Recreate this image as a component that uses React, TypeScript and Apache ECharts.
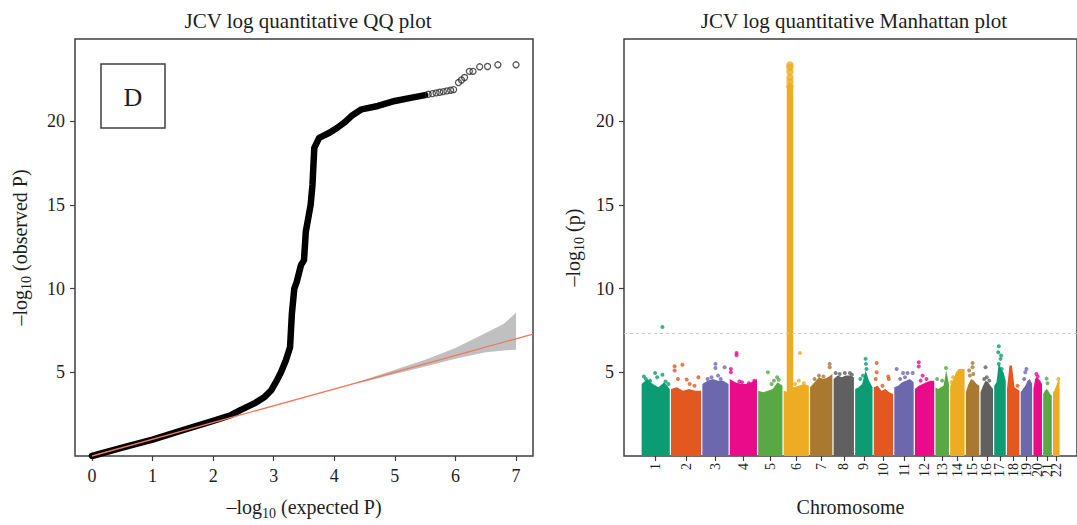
import React, { useEffect, useRef } from "react";
import * as echarts from "echarts";

// ---------- QQ plot data ----------
const qqExpected = [0, 0.5, 1, 1.5, 2, 2.3, 2.45, 2.68, 2.85, 2.96, 3.05, 3.12, 3.2, 3.27, 3.3, 3.34, 3.38, 3.45, 3.5, 3.53, 3.61, 3.64, 3.67, 3.75, 3.92, 4.05, 4.18, 4.3, 4.45, 4.72, 5.0, 5.28, 5.5];
const qqObserved = [0, 0.5, 0.98, 1.55, 2.1, 2.45, 2.74, 3.14, 3.53, 3.93, 4.5, 5.0, 5.7, 6.5, 8.5, 10.0, 10.4, 11.4, 11.7, 13.4, 15.0, 16.2, 18.4, 19.0, 19.3, 19.6, 19.95, 20.35, 20.7, 20.9, 21.2, 21.4, 21.55];
const qqTailExpected = [5.55, 5.62, 5.68, 5.74, 5.8, 5.86, 5.92, 5.97, 6.05, 6.1, 6.15, 6.23, 6.29, 6.4, 6.53, 6.7, 7.0];
const qqTailObserved = [21.6, 21.64, 21.68, 21.72, 21.76, 21.8, 21.84, 21.88, 22.3, 22.45, 22.6, 22.97, 22.97, 23.24, 23.26, 23.36, 23.36];
const bandExpected = [4.3, 4.5, 5.0, 5.5, 6.0, 6.5, 6.8, 7.0];
const bandUpper = [4.3, 4.56, 5.15, 5.75, 6.45, 7.35, 7.9, 8.55];
const bandLower = [4.3, 4.44, 4.9, 5.35, 5.8, 6.2, 6.3, 6.35];
const identityLine = [0, 7.28];
const qqTicks = [0, 1, 2, 3, 4, 5, 6, 7];
const pTicks = [5, 10, 15, 20];

// ---------- Manhattan data ----------
const chromosomes = ["1", "2", "3", "4", "5", "6", "7", "8", "9", "10", "11", "12", "13", "14", "15", "16", "17", "18", "19", "20", "21", "22"];
// SNP count per chromosome (thousands)
const chromSnpCount = [600, 640, 560, 580, 520, 540, 480, 440, 380, 420, 420, 420, 300, 320, 300, 280, 260, 280, 260, 200, 200, 160];
// upper edge of the dense SNP cloud (−log10 p) across each chromosome
const chromDenseTop = [
  [4.3, 4.6, 4.3, 4.1, 4.4, 4.0],
  [4.0, 4.1, 3.9, 4.0, 3.9, 3.9],
  [4.3, 4.5, 4.6, 4.5, 4.5, 4.3],
  [4.6, 4.4, 4.3, 4.3, 4.4, 4.6],
  [3.9, 3.8, 3.9, 4.0, 4.4, 4.2],
  [3.9, 3.8, 4.1, 4.2, 4.3, 4.2],
  [4.1, 4.4, 4.7, 4.6, 4.7, 4.9],
  [4.6, 4.8, 4.7, 4.8, 4.8, 4.7],
  [4.0, 4.1, 4.3, 5.1, 4.5, 4.1],
  [4.1, 4.2, 3.9, 4.0, 3.8, 3.7],
  [4.1, 4.2, 4.4, 4.5, 4.6, 4.4],
  [4.0, 4.2, 4.3, 4.4, 4.5, 4.5],
  [4.1, 4.0, 4.1, 4.2, 5.1, 4.3],
  [4.2, 4.5, 5.0, 5.2, 5.2, 5.2],
  [3.8, 4.3, 4.6, 4.5, 4.3, 4.2],
  [3.8, 4.2, 4.5, 4.4, 4.2, 4.0],
  [4.2, 4.4, 5.6, 5.2, 5.0, 4.5],
  [4.0, 5.4, 5.4, 4.1, 4.0, 3.9],
  [3.8, 4.0, 4.2, 4.5, 4.6, 4.3],
  [4.0, 4.6, 4.7, 4.6, 4.5, 4.3],
  [3.7, 3.9, 4.0, 3.9, 3.7, 3.6],
  [3.8, 3.9, 4.1, 4.3, 4.5, 4.6],
];
// individual SNPs above the cloud: [relative position in chromosome, −log10 p]
const chromHits = [
  [[0.08, 4.75], [0.15, 4.6], [0.3, 4.5], [0.48, 4.96], [0.55, 4.7], [0.74, 4.85], [0.74, 7.7], [0.85, 4.45], [0.95, 4.3]],
  [[0.12, 5.36], [0.12, 5.1], [0.38, 5.45], [0.23, 4.6], [0.52, 4.57], [0.62, 4.3], [0.91, 4.7], [0.78, 4.2]],
  [[0.5, 5.5], [0.5, 5.25], [0.85, 5.3], [0.6, 4.8], [0.2, 4.6], [0.35, 4.7], [0.7, 4.6]],
  [[0.25, 6.15], [0.25, 6.02], [0.04, 5.2], [0.04, 5.0], [0.35, 4.45], [0.45, 4.4], [0.7, 4.35], [0.9, 4.5]],
  [[0.4, 5.0], [0.78, 4.7], [0.65, 4.5], [0.85, 4.55], [0.55, 4.3]],
  [[0.65, 6.15], [0.3, 4.9], [0.6, 4.5], [0.8, 4.35], [0.45, 4.3]],
  [[0.88, 5.5], [0.88, 5.3], [0.4, 4.8], [0.6, 4.75], [0.2, 4.6]],
  [[0.1, 4.95], [0.3, 4.9], [0.55, 4.95], [0.8, 4.95], [0.9, 4.85]],
  [[0.6, 5.8], [0.62, 5.5], [0.65, 5.2], [0.3, 4.6], [0.45, 4.8]],
  [[0.15, 5.55], [0.15, 5.0], [0.1, 4.6], [0.75, 4.75], [0.78, 4.6], [0.45, 4.2]],
  [[0.12, 5.2], [0.45, 4.95], [0.68, 4.95], [0.95, 4.95], [0.55, 4.7], [0.3, 4.6]],
  [[0.2, 5.6], [0.2, 5.35], [0.4, 4.8], [0.6, 4.6], [0.3, 4.5]],
  [[0.78, 5.25], [0.5, 4.5], [0.12, 4.6]],
  [[0.2, 4.7], [0.3, 4.5], [0.1, 4.4]],
  [[0.5, 5.55], [0.5, 5.3], [0.25, 5.1], [0.3, 4.8], [0.55, 4.9]],
  [[0.4, 5.3], [0.5, 4.7], [0.3, 4.6], [0.7, 4.5]],
  [[0.4, 6.55], [0.35, 6.2], [0.6, 6.0], [0.55, 5.8], [0.4, 5.5], [0.65, 5.2]],
  [[0.85, 4.2]],
  [[0.5, 5.2], [0.4, 5.0], [0.3, 4.6]],
  [[0.35, 4.9], [0.5, 4.75]],
  [[0.4, 4.62], [0.5, 4.35]],
  [[0.8, 4.6]],
];
// chromosome 6 (HLA) peak
const hlaChromIndex = 5;
const hlaPeakFrac = 0.25;
const hlaPeakColumn = [3.8, 22.0];
const hlaPeakTop = [22.1, 22.35, 22.6, 22.95, 23.2, 23.35];
const significanceLine = 7.3;

const chromColors = ["#0b9c73", "#e2581f", "#6d68ae", "#ea0b8b", "#58a844", "#eeac22", "#a8792e", "#606060"];

const FONT = '"Liberation Serif", "DejaVu Serif", serif';
const TEXT = "#1e1e1e";
const AXIS = "#3f3f3f";
const CHR_GAP = 25;
const GENOME_MIN = -360;
const GENOME_MAX = 8890;

const chromStart: number[] = [];
{
  let acc = 0;
  chromSnpCount.forEach((n) => {
    chromStart.push(acc);
    acc += n;
  });
}
const chromWidth = chromSnpCount.map((n) => n - CHR_GAP);
const chromCenter = chromStart.map((s, i) => s + chromWidth[i] / 2);
// an extra (blank, off-screen) label at the axis end keeps ECharts from dropping chromosome 21/22
const chromLabelValues = [...chromCenter, GENOME_MAX];

const nameRich = {
  a: { fontSize: 20, fontFamily: FONT, color: TEXT, lineHeight: 26 },
  s: { fontSize: 14, fontFamily: FONT, color: TEXT, lineHeight: 14, verticalAlign: "bottom" },
};
const plainName = { fontSize: 20, fontFamily: FONT, color: TEXT, lineHeight: 26 };

export default function App() {
  const ref = useRef<HTMLDivElement>(null);
  useEffect(() => {
    if (!ref.current) return;
    const chart = echarts.init(ref.current, null, { renderer: "svg" });

    const qqLine = qqExpected.map((x, i) => [x, qqObserved[i]]);
    const qqTail = qqTailExpected.map((x, i) => [x, qqTailObserved[i]]);
    const hits: any[] = [];
    chromHits.forEach((list, i) => {
      list.forEach(([f, v]) => {
        hits.push({
          value: [chromStart[i] + f * chromWidth[i], v],
          itemStyle: { color: chromColors[i % chromColors.length] },
        });
      });
    });
    const hlaX = chromStart[hlaChromIndex] + hlaPeakFrac * chromWidth[hlaChromIndex];
    const hlaColor = chromColors[hlaChromIndex % chromColors.length];

    const tickCommon = { show: true, length: 5, lineStyle: { color: AXIS, width: 1.2 } };
    const labelCommon = { fontSize: 18, fontFamily: FONT, color: TEXT, showMinLabel: true, showMaxLabel: true };
    const titleStyle = { fontSize: 21, fontWeight: "normal", fontFamily: FONT, color: TEXT };

    const option: any = {
      animation: false,
      backgroundColor: "#ffffff",
      title: [
        { text: "JCV log quantitative QQ plot", left: 303, top: 5, textAlign: "center", textStyle: titleStyle },
        { text: "JCV log quantitative Manhattan plot", left: 849, top: 5, textAlign: "center", textStyle: titleStyle },
      ],
      grid: [
        { left: 75, top: 39, width: 458, height: 421, show: true, borderColor: AXIS, borderWidth: 1.5, backgroundColor: "transparent" },
        { left: 624, top: 39, right: -10, height: 421, show: true, borderColor: AXIS, borderWidth: 1.5, backgroundColor: "transparent" },
      ],
      xAxis: [
        {
          gridIndex: 0,
          type: "value",
          min: -0.28,
          max: 7.28,
          splitLine: { show: false },
          axisLine: { show: false, onZero: false },
          axisTick: { ...tickCommon, customValues: qqTicks },
          axisLabel: { ...labelCommon, customValues: qqTicks, margin: 11 },
          name: "{a|–log}{s|10}{a| (expected P)}",
          nameLocation: "middle",
          nameGap: 38,
          nameTextStyle: { rich: nameRich },
        },
        {
          gridIndex: 1,
          type: "value",
          min: GENOME_MIN,
          max: GENOME_MAX,
          splitLine: { show: false },
          axisLine: { show: false, onZero: false },
          axisTick: { ...tickCommon, customValues: chromLabelValues },
          axisLabel: {
            fontSize: 14,
            fontFamily: FONT,
            color: TEXT,
            customValues: chromLabelValues,
            rotate: 90,
            margin: 7,
            showMinLabel: true,
            showMaxLabel: false,
            hideOverlap: false,
            formatter: (v: number) => {
              const i = chromCenter.findIndex((c) => Math.abs(c - v) < 1);
              return i >= 0 ? chromosomes[i] : " ";
            },
          },
          name: "Chromosome",
          nameLocation: "middle",
          nameGap: 38,
          nameTextStyle: plainName,
        },
      ],
      yAxis: [
        {
          gridIndex: 0,
          type: "value",
          min: 0,
          max: 24.9,
          splitLine: { show: false },
          axisLine: { show: false, onZero: false },
          axisTick: { ...tickCommon, customValues: pTicks },
          axisLabel: { ...labelCommon, customValues: pTicks, margin: 10 },
          name: "{a|–log}{s|10}{a| (observed P)}",
          nameLocation: "middle",
          nameGap: 42,
          nameTextStyle: { rich: nameRich },
        },
        {
          gridIndex: 1,
          type: "value",
          min: 0,
          max: 24.9,
          splitLine: { show: false },
          axisLine: { show: false, onZero: false },
          axisTick: { ...tickCommon, customValues: pTicks },
          axisLabel: { ...labelCommon, customValues: pTicks, margin: 10 },
          name: "{a|–log}{s|10}{a| (p)}",
          nameLocation: "middle",
          nameGap: 38,
          nameTextStyle: { rich: nameRich },
        },
      ],
      graphic: [
        {
          type: "rect",
          shape: { x: 101, y: 64, width: 64, height: 64 },
          style: { fill: "#fff", stroke: AXIS, lineWidth: 1.5 },
          z: 100,
        },
        {
          type: "text",
          x: 133,
          y: 97,
          style: {
            text: "D",
            fontSize: 26,
            fontFamily: FONT,
            fill: TEXT,
            align: "center",
            verticalAlign: "middle",
            textAlign: "center",
            textVerticalAlign: "middle",
          },
          z: 101,
        },
      ],
      series: [
        {
          type: "custom",
          xAxisIndex: 0,
          yAxisIndex: 0,
          z: 1,
          silent: true,
          data: [[bandExpected[0], bandLower[0]]],
          renderItem: (_p: any, api: any) => {
            const pts: number[][] = [];
            bandExpected.forEach((x, i) => pts.push(api.coord([x, bandUpper[i]])));
            for (let i = bandExpected.length - 1; i >= 0; i--) pts.push(api.coord([bandExpected[i], bandLower[i]]));
            return { type: "polygon", shape: { points: pts }, style: { fill: "#bdbdbd", opacity: 0.95 } };
          },
        },
        {
          type: "line",
          xAxisIndex: 0,
          yAxisIndex: 0,
          z: 2,
          data: qqLine,
          symbol: "none",
          clip: true,
          lineStyle: { color: "#000", width: 6.5, cap: "round", join: "round" },
        },
        {
          type: "scatter",
          xAxisIndex: 0,
          yAxisIndex: 0,
          z: 2,
          data: qqTail,
          symbol: "circle",
          symbolSize: 6,
          itemStyle: { color: "rgba(255,255,255,0)", borderColor: "#2a2a2a", borderWidth: 1.3 },
        },
        {
          type: "line",
          xAxisIndex: 0,
          yAxisIndex: 0,
          z: 3,
          data: identityLine.map((v) => [v, v]),
          symbol: "none",
          clip: true,
          lineStyle: { color: "#f2785c", width: 1.3 },
        },
        {
          type: "custom",
          xAxisIndex: 1,
          yAxisIndex: 1,
          z: 1,
          silent: true,
          data: chromosomes.map((_, i) => [chromCenter[i], 0, i]),
          renderItem: (_p: any, api: any) => {
            const i = api.value(2) as number;
            const prof = chromDenseTop[i];
            const s = chromStart[i];
            const w = chromWidth[i];
            const pts: number[][] = [api.coord([s, 0])];
            prof.forEach((v, k) => pts.push(api.coord([s + (w * k) / (prof.length - 1), v])));
            pts.push(api.coord([s + w, 0]));
            return { type: "polygon", shape: { points: pts }, style: { fill: chromColors[i % chromColors.length] } };
          },
        },
        {
          type: "line",
          xAxisIndex: 1,
          yAxisIndex: 1,
          z: 2,
          data: hlaPeakColumn.map((v) => [hlaX, v]),
          symbol: "none",
          lineStyle: { color: hlaColor, width: 6.5, cap: "round" },
        },
        {
          type: "scatter",
          xAxisIndex: 1,
          yAxisIndex: 1,
          z: 2,
          data: hlaPeakTop.map((v) => [hlaX, v]),
          symbolSize: 7.5,
          itemStyle: { color: hlaColor },
        },
        {
          type: "scatter",
          xAxisIndex: 1,
          yAxisIndex: 1,
          z: 2,
          data: hits,
          symbolSize: 4,
          markLine: {
            silent: true,
            symbol: ["none", "none"],
            label: { show: false },
            lineStyle: { type: [3, 3], color: "#c9c9c9", width: 1 },
            data: [{ yAxis: significanceLine }],
          },
        },
      ],
    };
    chart.setOption(option);
    return () => chart.dispose();
  }, []);

  return (
    <div
      ref={ref}
      style={{ position: "absolute", left: 0, top: 0, width: 1077, height: 525, background: "#fff" }}
    />
  );
}
